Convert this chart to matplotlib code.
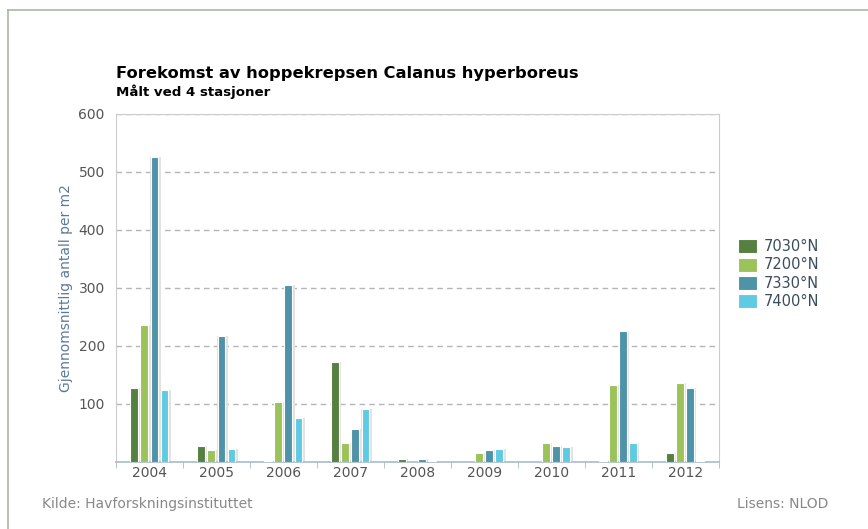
import matplotlib

matplotlib.use("Agg")
import matplotlib.pyplot as plt
import numpy as np

years = ["2004", "2005", "2006", "2007", "2008", "2009", "2010", "2011", "2012"]
stations = ["7030°N", "7200°N", "7330°N", "7400°N"]
colors = ["#55803f", "#9cc25a", "#4f93a8", "#5ecbe2"]

s7030 = [128, 28, 2, 173, 5, 0, 0, 1, 15]
s7200 = [236, 20, 104, 32, 0, 16, 32, 133, 137]
s7330 = [526, 218, 305, 57, 5, 20, 27, 225, 128]
s7400 = [124, 22, 76, 91, 1, 22, 25, 32, 2]
series = [s7030, s7200, s7330, s7400]

fig = plt.figure(figsize=(8.68, 5.29), dpi=100)
ax = fig.add_axes([0.1336, 0.1267, 0.6945, 0.6578])

x = np.arange(len(years))
step = 0.15
width = 0.118
for i, (vals, col) in enumerate(zip(series, colors)):
    pos = x + (i - 1.5) * step
    # soft shadow behind each bar
    ax.bar(pos + 0.012, vals, width=width + 0.04, bottom=0, color="#e2e2e2",
           zorder=2, linewidth=0)
    ax.bar(pos, vals, width=width, color=col, edgecolor="white",
           linewidth=0.8, zorder=3, label=stations[i])

ax.set_xlim(-0.5, len(years) - 0.5)
ax.set_ylim(0, 600)
ax.set_yticks([100, 200, 300, 400, 500, 600])
ax.set_xticks(x)
ax.set_xticklabels(years)
ax.set_xticks(np.arange(len(years) + 1) - 0.5, minor=True)
ax.tick_params(axis="x", which="major", length=0, labelsize=10, colors="#555555", pad=3)
ax.tick_params(axis="x", which="minor", length=4, color="#a8bccb")
ax.tick_params(axis="y", length=0, labelsize=10, colors="#555555", pad=8)
ax.yaxis.grid(True, ls=(0, (4, 3)), color="#b5b5b5", lw=1, zorder=0)
for side in ["left", "top", "right"]:
    ax.spines[side].set_color("#cccccc")
ax.spines["bottom"].set_color("#a8bccb")
ax.spines["bottom"].set_linewidth(1.2)
ax.set_ylabel("Gjennomsnittlig antall per m2", color="#5b7a99", fontsize=10, labelpad=4)

ax.legend(loc="center left", bbox_to_anchor=(1.01, 0.54), frameon=False,
          fontsize=10.5, handlelength=1.3, handleheight=1.1, labelspacing=0.22,
          labelcolor="#3a4d5c", handletextpad=0.45)

fig.text(116 / 868, 1 - 78 / 529, "Forekomst av hoppekrepsen Calanus hyperboreus",
         fontsize=11.7, fontweight="bold", color="black")
fig.text(116 / 868, 1 - 96 / 529, "Målt ved 4 stasjoner",
         fontsize=9.6, fontweight="bold", color="black")
fig.text(42 / 868, 1 - 508 / 529, "Kilde: Havforskningsinstituttet",
         fontsize=10, color="#888888")
fig.text(828 / 868, 1 - 508 / 529, "Lisens: NLOD",
         fontsize=10, color="#888888", ha="right")

# outer frame lines (top and left)
fig.add_artist(plt.Line2D([8 / 868, 1], [1 - 10 / 529] * 2, color="#a7b79f", lw=1.2))
fig.add_artist(plt.Line2D([8 / 868] * 2, [0, 1 - 10 / 529], color="#a7b79f", lw=1.2))

fig.savefig("out.png", dpi=100)
